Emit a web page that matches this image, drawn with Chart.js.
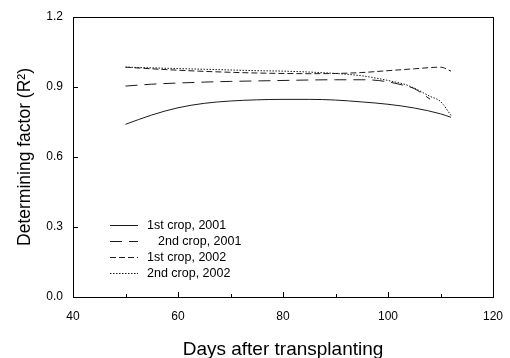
<!DOCTYPE html>
<html>
<head>
<meta charset="utf-8">
<script src="https://cdn.jsdelivr.net/npm/chart.js@4/dist/chart.umd.min.js"></script>
<style>
  html, body { margin: 0; padding: 0; background: #fff; }
  #wrap { width: 510px; height: 358px; }
</style>
</head>
<body>
<div id="wrap"><canvas id="chart"></canvas></div>
<script>
// values
const days1st2001 = [50, 55, 60, 65, 70, 75, 80, 85, 90, 95, 100, 105, 110, 112];
const r2_1st2001 = [0.740, 0.780, 0.811, 0.830, 0.840, 0.845, 0.847, 0.847, 0.844, 0.836, 0.826, 0.810, 0.785, 0.770];

const days2nd2001 = [50, 55, 60, 65, 70, 75, 80, 85, 90, 95, 97, 100, 103, 105, 108];
const r2_2nd2001 = [0.904, 0.912, 0.917, 0.921, 0.924, 0.926, 0.928, 0.930, 0.931, 0.931, 0.930, 0.922, 0.907, 0.893, 0.848];

const days1st2002 = [50, 55, 60, 65, 70, 75, 80, 85, 90, 95, 100, 105, 110, 112];
const r2_1st2002 = [0.985, 0.978, 0.972, 0.967, 0.963, 0.960, 0.958, 0.957, 0.958, 0.962, 0.970, 0.978, 0.985, 0.968];

const days2nd2002 = [50, 55, 60, 65, 70, 75, 80, 85, 90, 95, 100, 104, 108, 110, 112];
const r2_2nd2002 = [0.985, 0.982, 0.979, 0.976, 0.973, 0.970, 0.968, 0.964, 0.958, 0.948, 0.928, 0.905, 0.860, 0.838, 0.778];

const seriesLabels = ['1st crop, 2001', '2nd crop, 2001', '1st crop, 2002', '2nd crop, 2002'];

const FONT = 'Arial, "Liberation Sans", sans-serif';

function pts(xs, ys) {
  return xs.map((x, i) => ({ x: x, y: ys[i] }));
}

function line(label, data, dash) {
  return {
    label: label,
    data: data,
    borderColor: '#1a1a1a',
    borderWidth: 1,
    borderDash: dash,
    pointRadius: 0,
    fill: false,
    cubicInterpolationMode: 'monotone'
  };
}

// frame, inward ticks and the legend inside the plot
const framePlugin = {
  id: 'frame',
  afterDraw(chart) {
    const ctx = chart.ctx;
    const a = chart.chartArea;
    const xs = chart.scales.x;
    const ys = chart.scales.y;
    ctx.save();
    ctx.strokeStyle = '#000';
    ctx.lineWidth = 1;
    ctx.strokeRect(Math.round(a.left) + 0.5, Math.round(a.top) + 0.5,
      Math.round(a.right - a.left), Math.round(a.bottom - a.top));

    ctx.beginPath();
    for (let v = 50; v < 120; v += 10) {
      const px = Math.round(xs.getPixelForValue(v)) + 0.5;
      const len = v % 20 === 0 ? 5 : 3;
      ctx.moveTo(px, a.bottom);
      ctx.lineTo(px, a.bottom - len);
    }
    [0.3, 0.6, 0.9].forEach(v => {
      const py = Math.round(ys.getPixelForValue(v)) + 0.5;
      ctx.moveTo(a.left, py);
      ctx.lineTo(a.left + 5, py);
    });
    ctx.stroke();

    // legend
    const indents = [0, 11, 0, 0];
    ctx.font = '12.5px ' + FONT;
    ctx.fillStyle = '#000';
    ctx.textBaseline = 'middle';
    chart.data.datasets.forEach((ds, i) => {
      const y = Math.round(a.top + 208 + i * 16) + 0.5;
      const x0 = a.left + 37;
      ctx.beginPath();
      ctx.setLineDash(ds.borderDash || []);
      ctx.strokeStyle = ds.borderColor;
      ctx.moveTo(x0, y);
      ctx.lineTo(x0 + 28, y);
      ctx.stroke();
      ctx.setLineDash([]);
      ctx.fillText(ds.label, x0 + 37 + indents[i], y);
    });
    ctx.restore();
  }
};

new Chart(document.getElementById('chart'), {
  type: 'line',
  data: {
    datasets: [
      line(seriesLabels[0], pts(days1st2001, r2_1st2001), []),
      line(seriesLabels[1], pts(days2nd2001, r2_2nd2001), [12, 7]),
      line(seriesLabels[2], pts(days1st2002, r2_1st2002), [6, 3]),
      line(seriesLabels[3], pts(days2nd2002, r2_2nd2002), [1.5, 1.5])
    ]
  },
  options: {
    responsive: true,
    maintainAspectRatio: false,
    animation: false,
    layout: { padding: { top: 17, right: 17, left: 0, bottom: 0 } },
    plugins: {
      legend: { display: false },
      tooltip: { enabled: false }
    },
    scales: {
      x: {
        type: 'linear',
        min: 40,
        max: 120,
        ticks: { stepSize: 20, color: '#000', font: { size: 12, family: FONT }, padding: 4 },
        grid: { display: false },
        border: { display: false },
        title: {
          display: true,
          text: 'Days after transplanting',
          color: '#000',
          font: { size: 19, family: FONT },
          padding: { top: 0, bottom: -3 }
        },
        afterFit(s) { s.height = 61; }
      },
      y: {
        min: 0,
        max: 1.2,
        ticks: {
          stepSize: 0.3,
          color: '#000',
          font: { size: 12, family: FONT },
          padding: 2,
          callback: v => v.toFixed(1)
        },
        grid: { display: false },
        border: { display: false },
        title: {
          display: true,
          text: 'Determining factor (R\u00B2)',
          color: '#000',
          font: { size: 17.5, family: FONT },
          padding: { top: 15, bottom: 0 }
        },
        afterFit(s) { s.width = 73; }
      }
    }
  },
  plugins: [framePlugin]
});
</script>
</body>
</html>
